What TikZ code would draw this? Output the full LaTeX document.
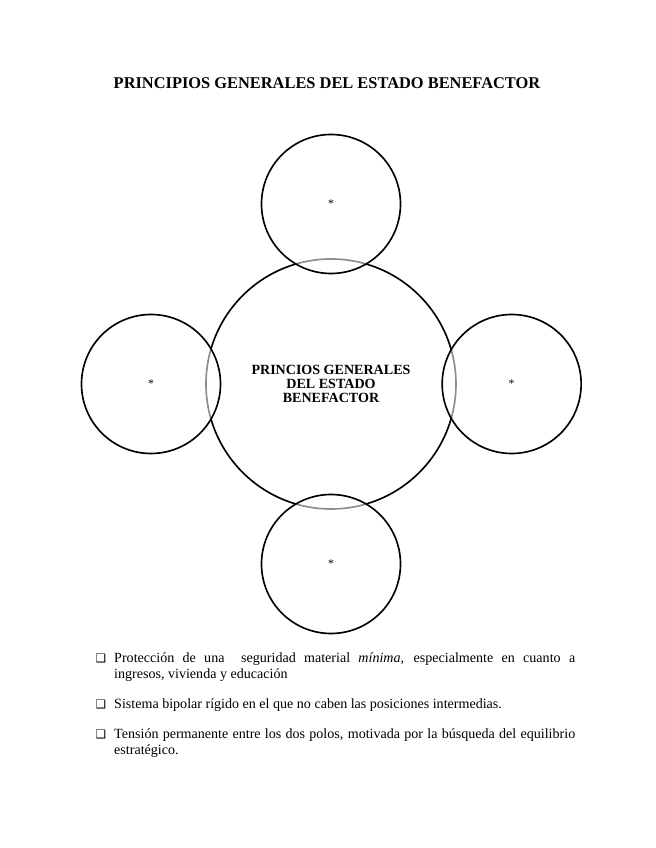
\documentclass[tikz,border=0pt]{standalone}
\usepackage{fontspec}
\setmainfont{Liberation Serif}
\newfontfamily\symfont{DejaVu Sans}
\usepackage{tikz}
\usetikzlibrary{positioning, calc}
\tikzset{
  big circ/.style={circle, draw=black, line width=1.4pt, minimum size=7.5cm, inner sep=0pt,
    align=center, font=\fontsize{12}{11.6}\selectfont\bfseries},
  small circ/.style={circle, draw=black, line width=1.4pt, minimum size=4.17cm, inner sep=0pt,
    fill=white, fill opacity=0.55, text opacity=1, font=\fontsize{10}{12}\selectfont},
  item text/.style={anchor=base west, inner sep=0pt, text width=13.83cm, align=justify,
    font=\fontsize{12}{14.5}\selectfont},
  item mark/.style={inner sep=0pt, font=\symfont\fontsize{10}{10}\selectfont},
}

\begin{document}
\begin{tikzpicture}
\useasboundingbox (-9.93,11.52) rectangle (9.72,-13.92);
\node[font=\fontsize{14}{16}\selectfont\bfseries, anchor=base] (title) at (-0.12,8.85)
    {PRINCIPIOS GENERALES DEL ESTADO BENEFACTOR};
\node[big circ] (centre) at (0,0) {PRINCIOS GENERALES\\DEL ESTADO\\BENEFACTOR};
% satellites
\foreach \n/\p in {top/{0,5.4},left/{-5.4,0},right/{5.42,0},bottom/{0,-5.4}}{
    \node[small circ] (\n) at (\p) {*};
}
% bullets
\node[item text] (b1) at (-6.51,-8.34) {Protección de una \ seguridad material \textit{mínima,} especialmente en cuanto a\linebreak ingresos, vivienda y educación};
\node[item text] (b2) at (-6.51,-9.72) {Sistema bipolar rígido en el que no caben las posiciones intermedias.};
\node[item text] (b3) at (-6.51,-10.62) {Tensión permanente entre los dos polos, motivada por la búsqueda del equilibrio\linebreak estratégico.};
\foreach \b in {b1,b2,b3}{
    \node[item mark, anchor=base] (m\b) at ($(\b.base west)+(-0.39,0)$) {❑};
}
\end{tikzpicture}
\end{document}
